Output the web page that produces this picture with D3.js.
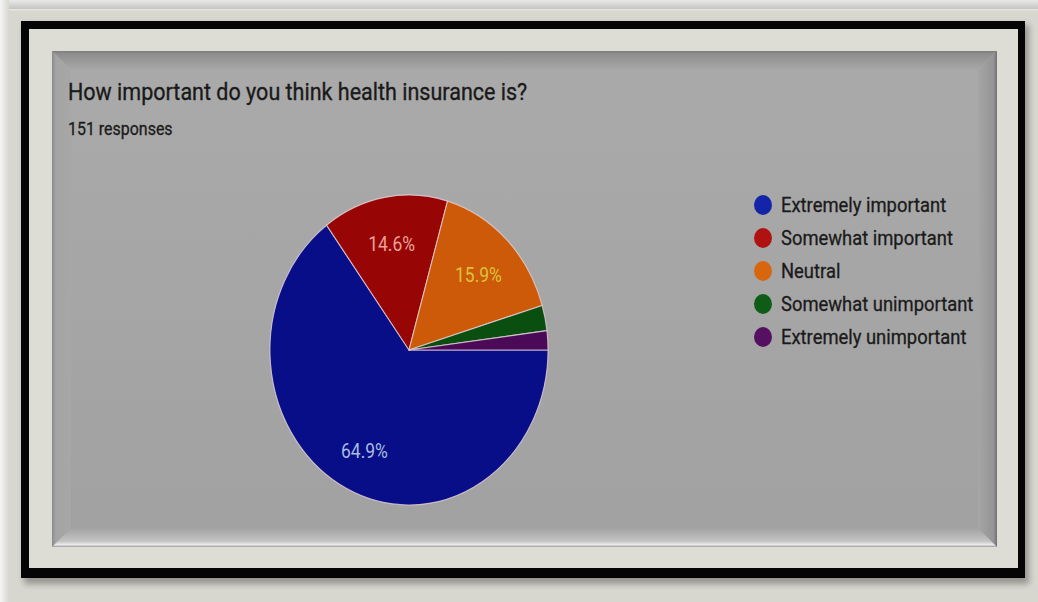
<!DOCTYPE html>
<html>
<head>
<meta charset="utf-8">
<script src="https://cdn.jsdelivr.net/npm/d3@7"></script>
<style>
  html, body { margin: 0; padding: 0; background: #d7d6cf; }
  svg { display: block; }
</style>
</head>
<body>
<svg id="chart" width="1038" height="602"></svg>
<script>
// Survey question and answers
const title = "How important do you think health insurance is?";
const subtitle = "151 responses";
const categories = ["Extremely important", "Somewhat important", "Neutral", "Somewhat unimportant", "Extremely unimportant"];
const counts = [98, 22, 24, 4, 3];
const sliceColors = ["#080d88", "#980505", "#cc5a08", "#0b4f10", "#4a0a58"];
const legendColors = ["#1424a8", "#b01212", "#d8660e", "#0e5c16", "#561062"];
const labelColors = ["#a9bedf", "#e9a39b", "#dcc23c", "#cccccc", "#cccccc"];
const total = d3.sum(counts);

const svg = d3.select("#chart");
const defs = svg.append("defs");

// ---------- frame ----------
const topFade = defs.append("linearGradient").attr("id", "topFade").attr("x1", 0).attr("y1", 0).attr("x2", 0).attr("y2", 1);
topFade.append("stop").attr("offset", 0).attr("stop-color", "#e9e9e9");
topFade.append("stop").attr("offset", 1).attr("stop-color", "#c4c4c2");

const leftFade = defs.append("linearGradient").attr("id", "leftFade").attr("x1", 0).attr("y1", 0).attr("x2", 1).attr("y2", 0);
leftFade.append("stop").attr("offset", 0).attr("stop-color", "#f6f6f6");
leftFade.append("stop").attr("offset", 1).attr("stop-color", "#d7d6cf");

svg.append("rect").attr("width", 1038).attr("height", 602).attr("fill", "#d7d6cf");
svg.append("rect").attr("width", 1038).attr("height", 9).attr("fill", "url(#topFade)");
svg.append("rect").attr("y", 9).attr("width", 1038).attr("height", 1.5).attr("fill", "#e6e5df");
svg.append("rect").attr("width", 9).attr("height", 602).attr("fill", "url(#leftFade)");

const shadow = defs.append("filter").attr("id", "frameShadow").attr("x", -0.05).attr("y", -0.05).attr("width", 1.1).attr("height", 1.1);
shadow.append("feGaussianBlur").attr("stdDeviation", 3);

svg.append("rect").attr("x", 24).attr("y", 25).attr("width", 1005).attr("height", 559)
  .attr("fill", "#000").attr("opacity", 0.3).attr("filter", "url(#frameShadow)");
svg.append("rect").attr("x", 21).attr("y", 21).attr("width", 1004).attr("height", 557).attr("fill", "#050505");
svg.append("rect").attr("x", 29).attr("y", 29).attr("width", 989).attr("height", 539).attr("fill", "#dddcd5");

// ---------- bevelled panel ----------
const px0 = 52, py0 = 51, px1 = 997, py1 = 547, bev = 19;

const panelFill = defs.append("linearGradient").attr("id", "panelFill").attr("x1", 0).attr("y1", 0).attr("x2", 0).attr("y2", 1);
panelFill.append("stop").attr("offset", 0).attr("stop-color", "#aaaaaa");
panelFill.append("stop").attr("offset", 1).attr("stop-color", "#a1a1a1");
svg.append("rect").attr("x", px0).attr("y", py0).attr("width", px1 - px0).attr("height", py1 - py0).attr("fill", "url(#panelFill)");

function grad(id, x1, y1, x2, y2, stops) {
  const g = defs.append("linearGradient").attr("id", id)
    .attr("x1", x1).attr("y1", y1).attr("x2", x2).attr("y2", y2);
  stops.forEach(([o, c]) => g.append("stop").attr("offset", o).attr("stop-color", c));
}
grad("bevTop", 0, 0, 0, 1, [[0, "#7d7d7d"], [0.15, "#8e8e8e"], [1, "#a8a8a8"]]);
grad("bevLeft", 0, 0, 1, 0, [[0, "#8a8a8a"], [0.2, "#a4a4a4"], [1, "#a7a7a7"]]);
grad("bevRight", 1, 0, 0, 0, [[0, "#707070"], [0.18, "#949494"], [1, "#a6a6a6"]]);
grad("bevBottom", 0, 1, 0, 0, [[0, "#9a9a9a"], [0.12, "#ececec"], [0.3, "#c4c4c4"], [1, "#a2a2a2"]]);

const line = d3.line();
svg.append("path").attr("fill", "url(#bevTop)")
  .attr("d", line([[px0, py0], [px1, py0], [px1 - bev, py0 + bev], [px0 + bev, py0 + bev]]) + "Z");
svg.append("path").attr("fill", "url(#bevLeft)")
  .attr("d", line([[px0, py0], [px0 + bev, py0 + bev], [px0 + bev, py1 - bev], [px0, py1]]) + "Z");
svg.append("path").attr("fill", "url(#bevRight)")
  .attr("d", line([[px1, py0], [px1, py1], [px1 - bev, py1 - bev], [px1 - bev, py0 + bev]]) + "Z");
svg.append("path").attr("fill", "url(#bevBottom)")
  .attr("d", line([[px0, py1], [px0 + bev, py1 - bev], [px1 - bev, py1 - bev], [px1, py1]]) + "Z");

// ---------- chart content (slightly condensed horizontally) ----------
const sx = 0.897;
const g = svg.append("g").attr("transform", `scale(${sx},1)`);
const font = "Roboto, 'Liberation Sans', Arial, sans-serif";
const ink = "#1a1a1a";

g.append("text").attr("x", 68 / sx).attr("y", 100)
  .attr("font-family", font).attr("font-size", 24).attr("fill", ink)
  .attr("stroke", ink).attr("stroke-width", 0.35)
  .text(title);
g.append("text").attr("x", 68 / sx).attr("y", 135)
  .attr("font-family", font).attr("font-size", 17.8).attr("fill", ink)
  .attr("stroke", ink).attr("stroke-width", 0.3)
  .text(subtitle);

// pie
const cx = 409 / sx, cy = 350, radius = 155;
const pie = d3.pie().sort(null).value(d => d)
  .startAngle(Math.PI / 2).endAngle(Math.PI / 2 + 2 * Math.PI);
const arcs = pie(counts);
const arc = d3.arc().innerRadius(0).outerRadius(radius);
const labelArc = d3.arc().innerRadius(radius * 0.71).outerRadius(radius * 0.71);

const pieG = g.append("g").attr("transform", `translate(${cx},${cy})`);
pieG.selectAll("path.slice").data(arcs).join("path")
  .attr("class", "slice")
  .attr("d", arc)
  .attr("fill", (d, i) => sliceColors[i])
  .attr("stroke", "#e4cfd6")
  .attr("stroke-opacity", 0.8)
  .attr("stroke-width", 1.2);

pieG.selectAll("text.pct").data(arcs.filter(d => d.value / total >= 0.05)).join("text")
  .attr("class", "pct")
  .attr("transform", d => `translate(${labelArc.centroid(d)})`)
  .attr("text-anchor", "middle").attr("dy", "0.5em")
  .attr("font-family", font).attr("font-size", 19.5)
  .attr("fill", d => labelColors[d.index])
  .text(d => (d.value / total * 100).toFixed(1) + "%");

// legend
const legendY = d3.scalePoint().domain(categories).range([205, 337]);
const legend = g.append("g");
const items = legend.selectAll("g").data(categories).join("g")
  .attr("transform", d => `translate(0,${legendY(d)})`);
items.append("circle").attr("cx", 763 / sx).attr("cy", 0).attr("r", 10)
  .attr("fill", (d, i) => legendColors[i]);
items.append("text").attr("x", 781 / sx).attr("y", 0).attr("dy", "0.36em")
  .attr("font-family", font).attr("font-size", 20.5).attr("fill", ink)
  .attr("stroke", ink).attr("stroke-width", 0.3)
  .text(d => d);
</script>
</body>
</html>
